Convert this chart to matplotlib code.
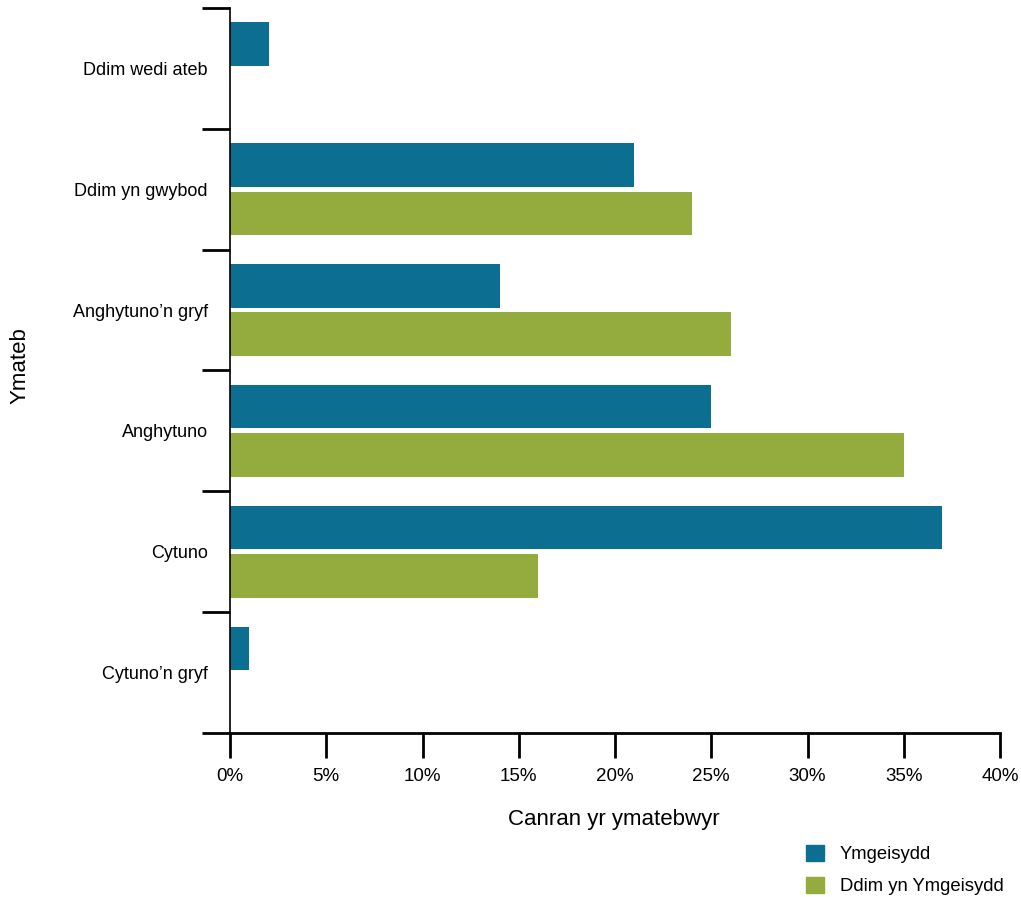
import matplotlib.pyplot as plt
import numpy as np
from matplotlib.patches import Patch
from matplotlib.ticker import PercentFormatter

plt.rcParams['font.family'] = ['Liberation Sans', 'DejaVu Sans']

categories = ['Ddim wedi ateb', 'Ddim yn gwybod', 'Anghytuno\u2019n gryf',
              'Anghytuno', 'Cytuno', 'Cytuno\u2019n gryf']
ymgeisydd = [2, 21, 14, 25, 37, 1]
ddim_ymgeisydd = [0, 24, 26, 35, 16, 0]
series_names = ['Ymgeisydd', 'Ddim yn Ymgeisydd']
colors = ['#0c6f91', '#94ab3d']

fig = plt.figure(figsize=(10.21, 8.97), dpi=100)
ax = fig.add_axes([230 / 1021, 1 - 733 / 897, 770 / 1021, 725 / 897])

y = np.arange(len(categories))
h = 0.36
ax.barh(y - 0.2, ymgeisydd, height=h, color=colors[0])
ax.barh(y + 0.2, ddim_ymgeisydd, height=h, color=colors[1])

ax.set_xlim(0, 40)
ax.set_ylim(len(categories) - 0.5, -0.5)

# category ticks sit on band boundaries, labels at band centres
ax.set_yticks(np.arange(len(categories) + 1) - 0.5)
ax.set_yticklabels([])
ax.set_yticks(y, minor=True)
ax.set_yticklabels(categories, minor=True, fontsize=13)
ax.tick_params(axis='y', which='major', length=20, width=2, color='black')
ax.tick_params(axis='y', which='minor', length=0, pad=16)

ax.set_xticks(np.arange(0, 41, 5))
ax.xaxis.set_major_formatter(PercentFormatter(decimals=0))
ax.tick_params(axis='x', length=18, width=2, pad=7, labelsize=13.5)

for s in ['top', 'right']:
    ax.spines[s].set_visible(False)
ax.spines['left'].set_linewidth(1.2)
ax.spines['bottom'].set_linewidth(2)

fig.text(614 / 1021, 1 - 819 / 897, 'Canran yr ymatebwyr', fontsize=16,
         ha='center', va='center')
fig.text(20 / 1021, 1 - 366 / 897, 'Ymateb', fontsize=16, rotation=90,
         ha='center', va='center')

handles = [Patch(color=c, label=n) for c, n in zip(colors, series_names)]
fig.legend(handles=handles, loc='upper left', bbox_to_anchor=(789 / 1021, 1 - 828 / 897),
           frameon=False, fontsize=13.3, handlelength=1.0, handleheight=1.0,
           handletextpad=0.85, labelspacing=0.72)

fig.savefig('out.png', dpi=100)
